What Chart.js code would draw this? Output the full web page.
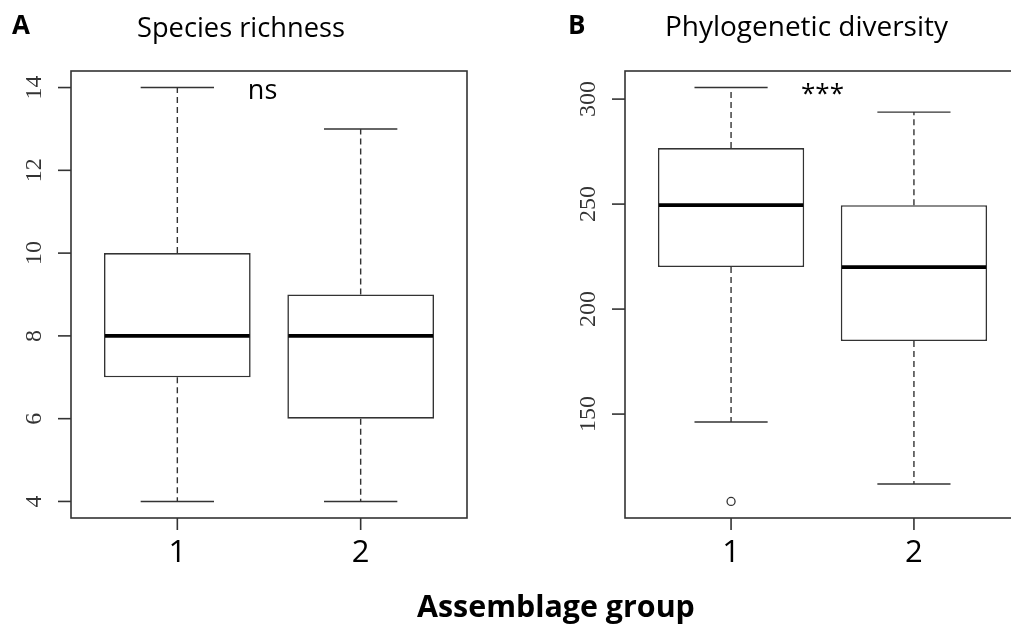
<!DOCTYPE html>
<html><head><meta charset="utf-8">
<script src="https://cdn.jsdelivr.net/npm/chart.js@4.4.1/dist/chart.umd.min.js"></script>
<style>
html,body{margin:0;padding:0;background:#fff;overflow:hidden;width:1011px;height:630px}
#wrap{position:relative;width:1011px;height:630px;overflow:hidden;background:#fff}
canvas{position:absolute;top:0}
#cA{left:0}
#cB{left:505px}
</style></head><body>
<div id="wrap"><canvas id="cA" width="1011" height="630"></canvas><canvas id="cB" width="530" height="630"></canvas></div>
<script>
// ---- data ----
const groups = [1, 2];
const groupLabels = ['1', '2'];
const xAxisTitle = 'Assemblage group';

// Panel A: Species richness
const richTitle = 'Species richness';
const richMin = [4, 4];
const richQ1 = [7, 6];
const richMed = [8, 8];
const richQ3 = [10, 9];
const richMax = [14, 13];
const richOutliers = [];
const richTicks = [4, 6, 8, 10, 12, 14];
const richSig = 'ns';

// Panel B: Phylogenetic diversity
const pdTitle = 'Phylogenetic diversity';
const pdMin = [146.2, 116.7];
const pdQ1 = [220, 184.8];
const pdMed = [249.5, 220];
const pdQ3 = [276.7, 249.5];
const pdMax = [305.5, 293.8];
const pdOutliers = [{x: 1, y: 108.4}];
const pdTicks = [150, 200, 250, 300];
const pdSig = '***';

// ---- styling ----
const LINE = '#333333';
const SANS = "'Open Sans'";
const SERIF = "'Liberation Serif'";

function fitFont(ctx, text, weight, family, width) {
  ctx.font = weight + ' 100px ' + family;
  return 100 * width / ctx.measureText(text).width;
}
function seg(ctx, x1, y1, x2, y2) { ctx.beginPath(); ctx.moveTo(x1, y1); ctx.lineTo(x2, y2); ctx.stroke(); }

function makePanel(id, d, pad, deco) {
  const outY = d.out.map(o => o.y);
  const lo = Math.min(...d.min, ...outY);
  const hi = Math.max(...d.max, ...outY);
  const ext = (hi - lo) * 0.04;
  const xext = (groups.length) * 0.04;
  const boxPlugin = {
    id: 'boxparts' + id,
    afterDatasetsDraw(chart) {
      const ctx = chart.ctx, xs = chart.scales.x, ys = chart.scales.y;
      ctx.save();
      groups.forEach((g, i) => {
        const cx = xs.getPixelForValue(g);
        const cap = xs.getPixelForValue(g + 0.2) - cx;
        const half = xs.getPixelForValue(g + 0.4) - cx;
        const yMax = ys.getPixelForValue(d.max[i]);
        const yMin = ys.getPixelForValue(d.min[i]);
        const yQ1 = ys.getPixelForValue(d.q1[i]);
        const yQ3 = ys.getPixelForValue(d.q3[i]);
        const yMed = ys.getPixelForValue(d.med[i]);
        ctx.strokeStyle = LINE; ctx.lineWidth = 1.4;
        ctx.setLineDash([6, 4]);
        seg(ctx, cx, yQ3, cx, yMax);
        seg(ctx, cx, yQ1, cx, yMin);
        ctx.setLineDash([]);
        seg(ctx, cx - cap, yMax, cx + cap, yMax);
        seg(ctx, cx - cap, yMin, cx + cap, yMin);
        ctx.strokeStyle = '#000'; ctx.lineWidth = 3.6;
        seg(ctx, cx - half + 1, yMed, cx + half - 1, yMed);
      });
      ctx.restore();
    },
    afterDraw(chart) {
      const ctx = chart.ctx, xs = chart.scales.x, ys = chart.scales.y, ca = chart.chartArea;
      ctx.save();
      ctx.strokeStyle = LINE; ctx.lineWidth = 1.6;
      ctx.strokeRect(ca.left, ca.top, ca.right - ca.left, ca.bottom - ca.top);
      // y ticks
      ctx.fillStyle = '#333';
      ctx.font = '24px ' + SERIF;
      d.ticks.forEach(v => {
        const y = ys.getPixelForValue(v);
        seg(ctx, ca.left - 13, y, ca.left, y);
        ctx.save();
        ctx.translate(ca.left - 30, y);
        ctx.rotate(-Math.PI / 2);
        ctx.textAlign = 'center'; ctx.textBaseline = 'alphabetic';
        ctx.fillText(String(v), 0, 0);
        ctx.restore();
      });
      // x ticks
      ctx.fillStyle = '#000';
      ctx.font = '31px ' + SANS;
      ctx.textAlign = 'center'; ctx.textBaseline = 'alphabetic';
      groups.forEach((g, i) => {
        const x = xs.getPixelForValue(g);
        seg(ctx, x, ca.bottom, x, ca.bottom + 12);
        ctx.fillText(groupLabels[i], x, ca.bottom + 44);
      });
      // significance
      ctx.font = d.sigFont;
      ctx.fillText(d.sig, xs.getPixelForValue(d.sigX), ys.getPixelForValue(hi) + d.sigDy);
      // titles
      deco(ctx);
      ctx.restore();
    }
  };
  return new Chart(document.getElementById(id), {
    type: 'bar',
    data: {
      datasets: [
        {
          type: 'bar',
          data: groups.map((g, i) => ({x: g, y: [d.q1[i], d.q3[i]]})),
          backgroundColor: '#fff', borderColor: LINE, borderWidth: 1.6, borderSkipped: false,
          barPercentage: 0.8, categoryPercentage: 1, order: 2
        },
        {
          type: 'scatter',
          data: d.out,
          pointRadius: 4, pointBackgroundColor: '#fff', pointBorderColor: LINE, pointBorderWidth: 1.3,
          order: 1
        }
      ]
    },
    options: {
      responsive: false, animation: false, devicePixelRatio: 1,
      layout: {padding: pad},
      plugins: {legend: {display: false}, tooltip: {enabled: false}},
      scales: {
        x: {
          type: 'linear', min: 0.5 - xext, max: groups.length + 0.5 + xext, offset: false, display: false,
          afterBuildTicks: s => { s.ticks = groups.map(v => ({value: v})); }
        },
        y: {type: 'linear', min: lo - ext, max: hi + ext, beginAtZero: false, display: false}
      }
    },
    plugins: [boxPlugin]
  });
}

makePanel('cA', {
  min: richMin, q1: richQ1, med: richMed, q3: richQ3, max: richMax, out: richOutliers,
  ticks: richTicks, sig: richSig, sigX: 1.465, sigDy: 11, sigFont: '27px ' + SANS
}, {left: 71, right: 1011 - 467, top: 71, bottom: 630 - 518}, ctx => {
  ctx.fillStyle = '#000'; ctx.textAlign = 'left'; ctx.textBaseline = 'alphabetic';
  ctx.font = 'bold 26px ' + SANS;
  ctx.fillText('A', 12, 34);
  ctx.font = 'normal ' + fitFont(ctx, richTitle, 'normal', SANS, 208) + 'px ' + SANS;
  ctx.fillText(richTitle, 137, 37);
  ctx.font = 'bold ' + fitFont(ctx, xAxisTitle, 'bold', SANS, 278) + 'px ' + SANS;
  ctx.fillText(xAxisTitle, 417, 617);
});

makePanel('cB', {
  min: pdMin, q1: pdQ1, med: pdMed, q3: pdQ3, max: pdMax, out: pdOutliers,
  ticks: pdTicks, sig: pdSig, sigX: 1.5, sigDy: 14, sigFont: '26px ' + SANS
}, {left: 625 - 505, right: 530 - (1020 - 505), top: 71, bottom: 630 - 518}, ctx => {
  ctx.fillStyle = '#000'; ctx.textAlign = 'left'; ctx.textBaseline = 'alphabetic';
  ctx.font = 'bold 26px ' + SANS;
  ctx.fillText('B', 568 - 505, 34);
  ctx.font = 'normal ' + fitFont(ctx, pdTitle, 'normal', SANS, 283) + 'px ' + SANS;
  ctx.fillText(pdTitle, 665 - 505, 36);
});
</script>
</body></html>
